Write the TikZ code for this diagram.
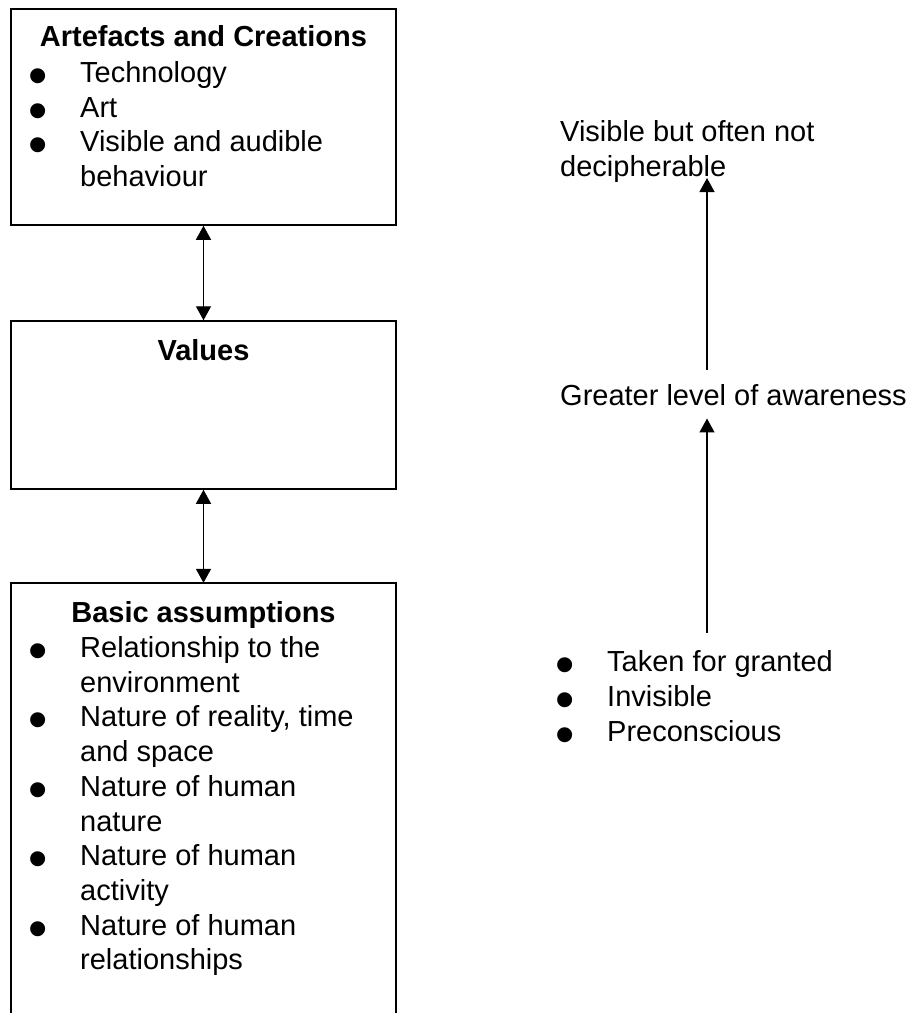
\documentclass[tikz,border=0pt]{standalone}
\usepackage{fontspec}
\setmainfont{Liberation Sans}
\usetikzlibrary{arrows.meta}

\newcommand{\txt}{\fontsize{29}{34.7}\selectfont}
\newcommand{\bul}{\makebox[50pt][l]{\hspace{-1.5pt}\raisebox{-12pt}[0pt][0pt]{\scalebox{1.9}{\textbullet}}}}

\tikzset{
	box/.style={draw, line width=1.5pt, minimum width=385pt, inner sep=0pt},
	head/.style={inner sep=0pt, anchor=base, font=\txt\bfseries},
	items/.style={inner sep=0pt, anchor=base west, font=\txt},
	link/.style={line width=1.4pt, {Triangle[width=15pt,length=14pt]}-{Triangle[width=15pt,length=14pt]}},
	rise/.style={line width=1.3pt, -{Triangle[width=15pt,length=14pt]}}
}

\begin{document}
\begin{tikzpicture}[x=1pt, y=-1pt]

\useasboundingbox (0,0) rectangle (912,1013);

\begin{scope}

\node[box, minimum height=216pt] (art) at (203.5,117) {};
\node[box, minimum height=168pt] (val) at (203.5,405) {};
\node[minimum width=385pt, minimum height=430pt, inner sep=0pt] (basic) at (203.5,798) {};
\draw[line width=1.5pt] (basic.south west) -- (basic.north west) -- (basic.north east) -- (basic.south east);

\node[head] (arthead) at (203.5,46.5) {Artefacts and Creations};
\node[head] (valhead) at (203.5,360) {Values};
\node[head] (basichead) at (203.5,622.5) {Basic assumptions};

\node[items] (artlist) at (30,82.5) {\begin{tabular}[t]{@{}l@{}l@{}}
\bul & Technology\\
\bul & Art\\
\bul & Visible and audible\\
 & behaviour
\end{tabular}};

\node[items] (basiclist) at (30,657.5) {\begin{tabular}[t]{@{}l@{}l@{}}
\bul & Relationship to the\\
 & environment\\
\bul & Nature of reality, time\\
 & and space\\
\bul & Nature of human\\
 & nature\\
\bul & Nature of human\\
 & activity\\
\bul & Nature of human\\
 & relationships
\end{tabular}};

\draw[link] (art) -- (val);
\draw[link] (val) -- (basic);

\end{scope}

\begin{scope}

\node[items] (visible) at (560,141.7) {\begin{tabular}[t]{@{}l@{}}
Visible but often not\\
decipherable
\end{tabular}};
\node[items] (aware) at (560,405) {Greater level of awareness};
\node[items] (taken) at (557,671.7) {\begin{tabular}[t]{@{}l@{}l@{}}
\bul & Taken for granted\\
\bul & Invisible\\
\bul & Preconscious
\end{tabular}};

\coordinate (axis) at (707,0);

\draw[rise, shorten <=13.8pt, shorten >=-9pt] (aware.north -| axis) -- (visible.south -| axis);
\draw[rise, shorten <=14.4pt, shorten >=13pt] (taken.north -| axis) -- (aware.south -| axis);

\end{scope}

\end{tikzpicture}
\end{document}
